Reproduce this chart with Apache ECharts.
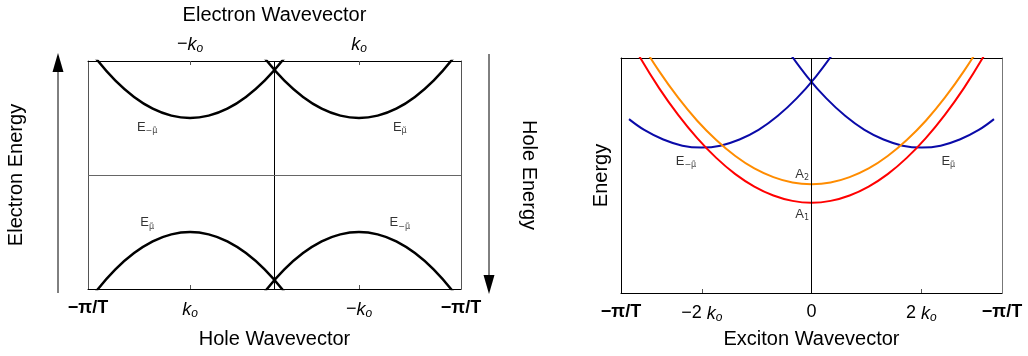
<!DOCTYPE html>
<html>
<head>
<meta charset="utf-8">
<script src="https://cdn.jsdelivr.net/npm/echarts@6/dist/echarts.min.js"></script>
<style>
  html, body { margin: 0; padding: 0; background: #fff; }
  #chart { width: 1028px; height: 356px; }
</style>
</head>
<body>
<div id="chart"></div>
<script>
// wavevector units: pi/T = 1
const K0 = 0.453;
const K2 = 0.576;

// left panel: electron / hole bands
const leftUpperA = [[-1.053, 1.238], [-0.953, 1.013], [-0.853, 0.828], [-0.753, 0.685], [-0.653, 0.582], [-0.553, 0.521], [-0.453, 0.5], [-0.353, 0.521], [-0.253, 0.582], [-0.153, 0.685], [-0.053, 0.828], [0.047, 1.013], [0.147, 1.238]];
const leftUpperB = [[-0.147, 1.238], [-0.047, 1.013], [0.053, 0.828], [0.153, 0.685], [0.253, 0.582], [0.353, 0.521], [0.453, 0.5], [0.553, 0.521], [0.653, 0.582], [0.753, 0.685], [0.853, 0.828], [0.953, 1.013], [1.053, 1.238]];
const leftLowerA = [[-1.053, -1.238], [-0.953, -1.013], [-0.853, -0.828], [-0.753, -0.685], [-0.653, -0.582], [-0.553, -0.521], [-0.453, -0.5], [-0.353, -0.521], [-0.253, -0.582], [-0.153, -0.685], [-0.053, -0.828], [0.047, -1.013], [0.147, -1.238]];
const leftLowerB = [[-0.147, -1.238], [-0.047, -1.013], [0.053, -0.828], [0.153, -0.685], [0.253, -0.582], [0.353, -0.521], [0.453, -0.5], [0.553, -0.521], [0.653, -0.582], [0.753, -0.685], [0.853, -0.828], [0.953, -1.013], [1.053, -1.238]];

// right panel: exciton bands
const blueLeftK = [-0.958, -0.878, -0.778, -0.678, -0.578, -0.478, -0.378, -0.278, -0.178, -0.078, 0.022, 0.122];
const blueLeftE = [0.740, 0.694, 0.653, 0.627, 0.619, 0.627, 0.653, 0.694, 0.753, 0.828, 0.920, 1.029];
const blueRightK = [-0.122, -0.022, 0.078, 0.178, 0.278, 0.378, 0.478, 0.578, 0.678, 0.778, 0.878, 0.958];
const blueRightE = [1.029, 0.920, 0.828, 0.753, 0.694, 0.653, 0.627, 0.619, 0.627, 0.653, 0.694, 0.740];
const excitonK = [-1, -0.9, -0.8, -0.7, -0.6, -0.5, -0.4, -0.3, -0.2, -0.1, 0, 0.1, 0.2, 0.3, 0.4, 0.5, 0.6, 0.7, 0.8, 0.9, 1];
const redE = [1.147, 1.002, 0.872, 0.758, 0.659, 0.575, 0.506, 0.453, 0.415, 0.392, 0.384, 0.392, 0.415, 0.453, 0.506, 0.575, 0.659, 0.758, 0.872, 1.002, 1.147];
const orangeE = [1.215, 1.072, 0.944, 0.831, 0.733, 0.651, 0.583, 0.530, 0.493, 0.470, 0.463, 0.470, 0.493, 0.530, 0.583, 0.651, 0.733, 0.831, 0.944, 1.072, 1.215];

// tick positions and labels
const holeTicks = [-1, -K0, K0, 1];
const holeLabels = ['{b|−π/T}', '{i|k}{s|o}', '{n|−}{i|k}{s|o}', '{b|−π/T}'];
const electronTicks = [-K0, K0];
const electronLabels = ['{n|−}{i|k}{s|o}', '{i|k}{s|o}'];
const excitonTicks = [-1, -K2, 0, K2, 1];
const excitonLabels = ['{b|−π/T}', '{n|−2 }{i|k}{s|o}', '{n|0}', '{n|2 }{i|k}{s|o}', '{b|−π/T}'];

// band labels [k, E, text]
const leftNotes = [[-0.683, 0.42, '−μ̃'], [0.672, 0.42, 'μ̃'], [-0.683, -0.42, 'μ̃'], [0.672, -0.42, '−μ̃']];
const rightNotes = [[-0.659, 0.562, 'E', '−μ̃'], [0.718, 0.562, 'E', 'μ̃'], [-0.049, 0.506, 'A', '2'], [-0.049, 0.336, 'A', '1']];

const chart = echarts.init(document.getElementById('chart'));

const FONT = 'Liberation Sans';

const tickRich = {
  b: { fontFamily: FONT, fontWeight: 'bold', fontSize: 18, color: '#000' },
  n: { fontFamily: FONT, fontSize: 18, color: '#000' },
  i: { fontFamily: FONT, fontStyle: 'italic', fontSize: 18, color: '#000' },
  s: { fontFamily: FONT, fontStyle: 'italic', fontSize: 12, color: '#000', padding: [9, 0, 0, 0] }
};

const labelFrom = (ticks, labels) => (value) => {
  const idx = ticks.findIndex((t) => Math.abs(t - value) < 1e-6);
  return idx >= 0 ? labels[idx] : '';
};

const nameStyle = { fontFamily: FONT, fontSize: 20, color: '#000' };

const edge = (color) => ({ show: true, onZero: false, lineStyle: { color: color, width: 1 } });

const line = (data, color, width, xi, yi) => ({
  type: 'line',
  xAxisIndex: xi,
  yAxisIndex: yi,
  data: data,
  smooth: 0.4,
  showSymbol: false,
  clip: true,
  silent: true,
  lineStyle: { color: color, width: width }
});

const option = {
  animation: false,
  textStyle: { fontFamily: FONT },
  grid: [
    { left: 88, top: 58, width: 373, height: 231 },
    { left: 621, top: 58, width: 381, height: 235 }
  ],
  xAxis: [
    {
      type: 'value', gridIndex: 0, position: 'bottom', min: -1, max: 1,
      name: 'Hole Wavevector', nameLocation: 'middle', nameGap: 40, nameTextStyle: nameStyle,
      axisLine: edge('#000'),
      axisTick: { show: true, inside: true, length: 4, customValues: [-K0, K0], lineStyle: { color: '#555' } },
      axisLabel: { customValues: holeTicks, margin: 10, formatter: labelFrom(holeTicks, holeLabels), rich: tickRich },
      splitLine: { show: false }
    },
    {
      type: 'value', gridIndex: 0, position: 'top', min: -1, max: 1,
      name: 'Electron Wavevector', nameLocation: 'middle', nameGap: 36, nameTextStyle: nameStyle,
      axisLine: edge('#000'),
      axisTick: { show: true, inside: true, length: 4, customValues: electronTicks, lineStyle: { color: '#555' } },
      axisLabel: { customValues: electronTicks, margin: 6, formatter: labelFrom(electronTicks, electronLabels), rich: tickRich },
      splitLine: { show: false }
    },
    {
      type: 'value', gridIndex: 1, position: 'bottom', min: -1, max: 1,
      name: 'Exciton Wavevector', nameLocation: 'middle', nameGap: 36, nameTextStyle: nameStyle,
      axisLine: edge('#000'),
      axisTick: { show: true, inside: true, length: 4, customValues: [-K2, 0, K2], lineStyle: { color: '#555' } },
      axisLabel: { customValues: excitonTicks, margin: 10, formatter: labelFrom(excitonTicks, excitonLabels), rich: tickRich },
      splitLine: { show: false }
    },
    {
      type: 'value', gridIndex: 1, position: 'top', min: -1, max: 1,
      axisLine: edge('#000'),
      axisTick: { show: false }, axisLabel: { show: false }, splitLine: { show: false }
    }
  ],
  yAxis: [
    {
      type: 'value', gridIndex: 0, position: 'left', min: -1, max: 1,
      name: 'Electron Energy', nameLocation: 'middle', nameGap: 62, nameTextStyle: nameStyle,
      axisLine: edge('#555'),
      axisTick: { show: false }, axisLabel: { show: false }, splitLine: { show: false }
    },
    {
      type: 'value', gridIndex: 0, position: 'right', min: -1, max: 1,
      name: 'Hole Energy', nameLocation: 'middle', nameGap: 58, nameRotate: -90, nameTextStyle: nameStyle,
      axisLine: edge('#555'),
      axisTick: { show: false }, axisLabel: { show: false }, splitLine: { show: false }
    },
    {
      type: 'value', gridIndex: 1, position: 'left', min: 0, max: 1,
      name: 'Energy', nameLocation: 'middle', nameGap: 10, nameTextStyle: nameStyle,
      axisLine: edge('#000'),
      axisTick: { show: false }, axisLabel: { show: false }, splitLine: { show: false }
    },
    {
      type: 'value', gridIndex: 1, position: 'right', min: 0, max: 1,
      axisLine: edge('#777'),
      axisTick: { show: false }, axisLabel: { show: false }, splitLine: { show: false }
    }
  ],
  series: [
    Object.assign(line(leftUpperA, '#000', 2.5, 0, 0), {
      markLine: {
        silent: true, symbol: ['none', 'none'], label: { show: false },
        data: [
          { xAxis: 0, lineStyle: { color: '#000', width: 1, type: 'solid' } },
          { yAxis: 0, lineStyle: { color: '#666', width: 1.2, type: 'solid' } }
        ]
      }
    }),
    line(leftUpperB, '#000', 2.5, 0, 0),
    line(leftLowerA, '#000', 2.5, 0, 0),
    line(leftLowerB, '#000', 2.5, 0, 0),
    Object.assign(line(blueLeftK.map((k, i) => [k, blueLeftE[i]]), '#0a0aa8', 2, 2, 2), {
      markLine: {
        silent: true, symbol: ['none', 'none'], label: { show: false },
        data: [{ xAxis: 0, lineStyle: { color: '#000', width: 1, type: 'solid' } }]
      }
    }),
    line(blueRightK.map((k, i) => [k, blueRightE[i]]), '#0a0aa8', 2, 2, 2),
    line(excitonK.map((k, i) => [k, orangeE[i]]), '#ff8c00', 2, 2, 2),
    line(excitonK.map((k, i) => [k, redE[i]]), '#ff0000', 2, 2, 2),
    {
      type: 'scatter', xAxisIndex: 0, yAxisIndex: 0, symbolSize: 0, silent: true,
      data: leftNotes,
      label: {
        show: true, position: 'inside',
        formatter: (p) => '{e|E}{s|' + p.data[2] + '}',
        rich: {
          e: { fontFamily: FONT, fontSize: 13, color: '#000' },
          s: { fontFamily: 'DejaVu Sans', fontSize: 8, color: '#000', padding: [8, 0, 0, 0] }
        }
      }
    },
    {
      type: 'scatter', xAxisIndex: 2, yAxisIndex: 2, symbolSize: 0, silent: true,
      data: rightNotes,
      label: {
        show: true, position: 'inside',
        formatter: (p) => '{e|' + p.data[2] + '}{s|' + p.data[3] + '}',
        rich: {
          e: { fontFamily: FONT, fontSize: 13, color: '#000' },
          s: { fontFamily: 'DejaVu Sans', fontSize: 8, color: '#000', padding: [8, 0, 0, 0] }
        }
      }
    }
  ],
  graphic: [
    // energy arrows beside the left panel
    { type: 'line', silent: true, shape: { x1: 58, y1: 293, x2: 58, y2: 66 }, style: { stroke: '#000', lineWidth: 1 } },
    { type: 'polygon', silent: true, shape: { points: [[58, 53], [52.5, 72], [63.5, 72]] }, style: { fill: '#000' } },
    { type: 'line', silent: true, shape: { x1: 489, y1: 54, x2: 489, y2: 280 }, style: { stroke: '#000', lineWidth: 1 } },
    { type: 'polygon', silent: true, shape: { points: [[489, 294], [483.5, 275], [494.5, 275]] }, style: { fill: '#000' } }
  ]
};

chart.setOption(option);
</script>
</body>
</html>
